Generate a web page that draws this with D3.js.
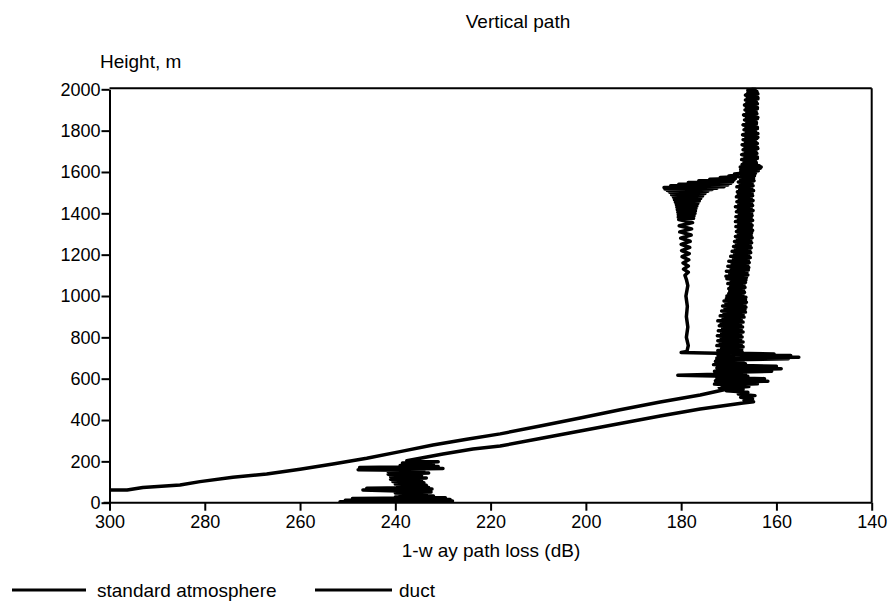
<!DOCTYPE html>
<html>
<head>
<meta charset="utf-8">
<script src="https://cdn.jsdelivr.net/npm/d3@7"></script>
<style>
  html, body { margin: 0; padding: 0; background: #fff; }
  svg { display: block; font-family: "Liberation Sans", Arial, Helvetica, sans-serif; }
</style>
</head>
<body>
<svg id="chart" width="891" height="603"></svg>
<script>
// Axis ticks
const lossTicks = [300, 280, 260, 240, 220, 200, 180, 160, 140];
const heightTicks = [0, 200, 400, 600, 800, 1000, 1200, 1400, 1600, 1800, 2000];
const seriesNames = ["standard atmosphere", "duct"];

// One-way path loss (dB) against height (m): [loss, height]
const standardAtmosphere = [
  [300.0,61],[296.3,61],[293.0,74],[285.2,86],[281.0,102],[274.1,123],[267.0,139],[260.0,162],[253.1,187],[246.0,215],
  [239.0,247],[232.1,279],[225.0,307],[218.0,333],[209.6,371],[201.2,410],[192.8,450],[184.4,487],[176.0,521],[169.1,556],
  [165.8,562],[171.5,568],[164.0,575],[172.0,582],[161.8,588],[172.3,594],[162.5,600],[172.5,606],[166.0,612],[172.6,618],
  [166.5,624],[172.3,630],[161.0,636],[172.0,642],[159.0,648],[171.5,654],[160.0,660],[172.0,666],[166.5,672],[172.3,678],
  [167.0,684],[172.5,690],[157.5,696],[171.0,700],[155.3,704],[170.0,708],[157.0,712],[171.5,716],[160.5,720],[172.0,724],[167.2,730],
  [172.3,736],[167.3,742],[171.5,748],[167.0,754],[172.5,760],[167.4,766],[171.8,772],[167.0,778],[172.3,784],[167.5,790],
  [171.6,796],[167.2,802],[172.4,808],[167.5,814],[171.5,820],[167.0,826],[172.2,832],[167.4,838],[171.3,844],[167.1,850],
  [172.0,856],[167.5,862],[171.6,868],[167.0,874],[172.3,880],[167.4,886],[171.2,892],[166.8,898],[171.8,904],[167.0,910],
  [171.0,916],[166.5,922],[171.5,928],[166.6,934],[170.8,940],[166.4,946],[171.3,952],[166.6,958],[170.6,964],[166.3,970],
  [171.0,976],[166.5,982],[170.5,988],[166.4,994],[170.4,1000],[167.0,1006],[170.0,1012],[166.7,1018],[169.8,1024],[166.9,1030],
  [170.0,1036],[166.6,1042],[169.6,1048],[166.8,1054],[170.2,1060],[166.5,1066],[169.5,1072],[166.4,1078],[170.4,1084],[166.3,1090],
  [170.6,1096],[166.0,1102],[169.8,1108],[166.2,1114],[170.5,1120],[165.9,1126],[169.5,1132],[165.8,1138],[170.2,1144],[166.0,1150],
  [169.3,1156],[165.7,1162],[170.0,1168],[165.9,1174],[169.0,1180],[165.5,1186],[169.6,1192],[165.8,1198],[168.8,1204],[165.4,1210],
  [169.3,1216],[165.6,1222],[168.6,1228],[165.3,1234],[169.0,1240],[165.5,1246],[168.4,1252],[165.2,1258],[168.8,1264],[165.4,1270],
  [168.2,1276],[165.1,1282],[168.6,1288],[165.3,1294],[168.0,1300],[165.2,1306],[168.4,1312],[165.0,1318],[168.0,1324],[165.3,1330],
  [168.5,1336],[165.1,1342],[167.9,1348],[165.4,1354],[168.6,1360],[165.0,1366],[168.0,1372],[165.3,1378],[168.5,1384],[165.1,1390],
  [167.8,1396],[165.2,1402],[168.4,1408],[164.9,1414],[168.0,1420],[165.3,1426],[168.6,1432],[165.0,1438],[167.9,1444],[165.2,1450],
  [168.3,1456],[164.9,1462],[167.8,1468],[165.3,1474],[168.4,1480],[165.0,1486],[168.0,1492],[165.1,1498],[168.2,1504],[164.8,1510],
  [167.7,1516],[165.2,1522],[168.3,1528],[164.9,1534],[167.6,1540],[165.1,1546],[168.0,1552],[164.7,1558],[167.5,1564],[164.8,1570],
  [167.8,1576],[164.6,1582],[167.3,1588],[164.4,1594],[167.5,1600],[163.8,1606],[167.2,1612],[163.4,1618],[167.6,1624],[163.6,1630],
  [167.0,1636],[164.2,1642],[166.8,1648],[164.4,1654],[167.3,1660],[164.0,1666],[166.6,1672],[164.5,1678],[167.1,1684],[164.1,1690],
  [166.5,1696],[164.3,1702],[167.0,1708],[163.9,1714],[166.6,1720],[164.4,1726],[167.2,1732],[164.0,1738],[166.5,1744],[164.5,1750],
  [167.0,1756],[164.1,1762],[166.4,1768],[164.3,1774],[166.9,1780],[163.9,1786],[166.3,1792],[164.4,1798],[166.8,1804],[164.0,1810],
  [166.4,1816],[164.5,1822],[166.9,1828],[164.2,1834],[166.2,1840],[164.4,1846],[166.7,1852],[164.0,1858],[166.3,1864],[164.5,1870],
  [166.8,1876],[164.1,1882],[166.2,1888],[164.3,1894],[166.6,1900],[164.0,1906],[166.3,1912],[164.4,1918],[166.7,1924],[164.0,1930],
  [166.2,1936],[164.3,1942],[166.5,1948],[163.9,1954],[166.1,1960],[164.2,1966],[166.4,1972],[163.9,1978],[166.0,1984],[164.1,1990],
  [165.8,1996],[164.5,2000]
];

const duct = [
  [251.6,4],[228.0,8],[250.5,12],[228.5,16],[249.0,20],[229.5,24],[240.0,28],[232.0,32],[239.0,37],[233.5,42],
  [240.0,47],[232.5,52],[239.5,57],[246.8,62],[232.3,66],[246.0,70],[233.0,74],[239.5,79],[233.5,84],[240.0,90],
  [234.0,96],[240.5,102],[234.5,108],[241.0,114],[233.5,120],[241.0,126],[234.5,132],[241.5,138],[233.0,144],[241.5,150],
  [234.0,156],[247.8,160],[230.0,165],[247.5,170],[231.0,175],[239.0,180],[232.0,186],[238.5,192],[231.0,198],[237.6,203],
  [230.0,236],[223.7,260],[218.0,274],[209.6,311],[201.2,347],[192.8,383],[184.4,419],[176.0,453],[167.0,482],
  [164.8,488],[166.8,495],[165.0,502],[167.5,510],[164.5,518],[168.0,526],[166.0,534],[170.5,542],[167.0,550],[172.0,558],
  [168.0,566],[173.0,574],[169.0,582],[172.8,590],[168.5,598],[172.5,606],[170.5,612],[180.7,617],[172.5,621],[169.0,628],
  [173.0,636],[169.0,644],[172.5,652],[168.5,660],[173.2,668],[169.0,676],[172.8,684],[168.5,692],[172.5,700],[169.0,708],
  [172.3,716],[170.0,722],[180.0,727],[178.8,731],
  [178.5,760],[178.9,800],[178.6,850],[178.9,900],[178.7,950],[179.0,1000],[178.6,1050],[178.9,1080],
  [179.2,1100],[178.5,1115],[179.5,1130],[178.5,1145],[179.6,1160],[178.4,1175],[179.8,1190],[178.3,1205],[179.9,1220],[178.2,1235],
  [180.0,1250],[178.1,1265],[180.1,1280],[177.9,1295],[180.3,1310],[177.8,1325],[180.4,1340],[177.6,1355],
  [180.5,1370],[177.4,1376],[180.6,1382],[177.3,1388],[180.6,1394],[177.1,1400],[180.7,1406],[177.0,1412],[180.8,1418],[176.9,1424],
  [180.9,1430],[176.7,1436],[181.0,1442],[176.5,1448],[181.2,1454],[176.2,1460],[181.4,1466],[175.9,1472],[181.6,1478],[175.5,1484],
  [182.0,1490],[175.0,1496],[182.4,1502],[174.4,1507],[182.9,1511],[173.5,1515],[183.4,1518],[172.5,1521],[183.6,1525],[171.0,1529],
  [182.2,1533],[170.2,1537],[180.5,1541],[169.6,1545],[178.5,1549],[169.2,1553],[176.3,1557],[168.9,1561],[174.0,1565],[168.6,1569],
  [171.8,1573],[168.3,1577],[170.0,1581],[168.1,1585],[168.8,1590],
  [164.8,1600],[167.5,1612],[163.2,1624],[167.2,1636],[164.3,1648],[167.0,1660],[164.0,1672],[167.3,1684],[164.5,1696],[166.8,1708],
  [164.0,1720],[167.0,1732],[164.3,1744],[166.6,1756],[163.9,1768],[167.1,1780],[164.4,1792],[166.5,1804],[164.0,1816],[167.0,1828],
  [164.2,1840],[166.4,1852],[163.9,1864],[166.9,1876],[164.3,1888],[166.3,1900],[164.0,1912],[166.6,1924],[164.2,1936],[166.2,1948],
  [163.9,1960],[166.5,1972],[164.1,1984],[166.0,1996],[165.0,2000]
];

const svg = d3.select("#chart");
const plot = { left: 109.5, right: 871.7, top: 89.3, bottom: 502.7 };

const x = d3.scaleLinear().domain([300, 140]).range([plot.left, plot.right]);
const y = d3.scaleLinear().domain([0, 2000]).range([plot.bottom, plot.top]);

svg.append("defs").append("clipPath").attr("id", "plot-clip")
  .append("rect")
  .attr("x", plot.left).attr("y", plot.top - 2)
  .attr("width", plot.right - plot.left).attr("height", plot.bottom - plot.top + 2);

// Curves
const line = d3.line().x(d => x(d[0])).y(d => y(d[1]));
const curves = svg.append("g").attr("clip-path", "url(#plot-clip)");
[standardAtmosphere, duct].forEach(series => {
  curves.append("path")
    .datum(series)
    .attr("d", line)
    .attr("fill", "none")
    .attr("stroke", "#000")
    .attr("stroke-width", 3.5)
    .attr("stroke-linejoin", "round")
    .attr("stroke-linecap", "round");
});

// Frame: top and right edges
svg.append("line").attr("x1", plot.left).attr("x2", plot.right)
  .attr("y1", plot.top - 1).attr("y2", plot.top - 1)
  .attr("stroke", "#000").attr("stroke-width", 2);
svg.append("line").attr("x1", plot.right).attr("x2", plot.right)
  .attr("y1", plot.top - 1).attr("y2", plot.bottom)
  .attr("stroke", "#000").attr("stroke-width", 2);

// Axes
const xAxis = svg.append("g")
  .attr("transform", `translate(0,${plot.bottom})`)
  .call(d3.axisBottom(x).tickValues(lossTicks).tickSize(8).tickSizeOuter(0).tickPadding(5).tickFormat(d3.format("d")));
const yAxis = svg.append("g")
  .attr("transform", `translate(${plot.left},0)`)
  .call(d3.axisLeft(y).tickValues(heightTicks).tickSize(8).tickSizeOuter(0).tickPadding(1).tickFormat(d3.format("d")));

[xAxis, yAxis].forEach(g => {
  g.select(".domain").attr("stroke", "#000").attr("stroke-width", 2);
  g.selectAll(".tick line").attr("stroke", "#000").attr("stroke-width", 2);
  g.selectAll(".tick text").attr("fill", "#000").attr("font-size", 18)
    .attr("font-family", "'Liberation Sans', Arial, sans-serif");
});
xAxis.select(".domain").attr("d", `M${plot.left - 6},0H${plot.right}`);

// Titles
svg.append("text").attr("x", 518).attr("y", 28).attr("text-anchor", "middle")
  .attr("font-size", 19).text("Vertical path");
svg.append("text").attr("x", 100).attr("y", 68).attr("text-anchor", "start")
  .attr("font-size", 19).text("Height, m");
svg.append("text").attr("x", 491).attr("y", 557).attr("text-anchor", "middle")
  .attr("font-size", 19).text("1-w ay path loss (dB)");

// Legend
const legendItems = [
  { name: seriesNames[0], x1: 12, x2: 86, tx: 97 },
  { name: seriesNames[1], x1: 315, x2: 392, tx: 399 }
];
legendItems.forEach(item => {
  svg.append("line").attr("x1", item.x1).attr("x2", item.x2)
    .attr("y1", 590).attr("y2", 590)
    .attr("stroke", "#000").attr("stroke-width", 3);
  svg.append("text").attr("x", item.tx).attr("y", 596.5)
    .attr("font-size", 19).text(item.name);
});
</script>
</body>
</html>
